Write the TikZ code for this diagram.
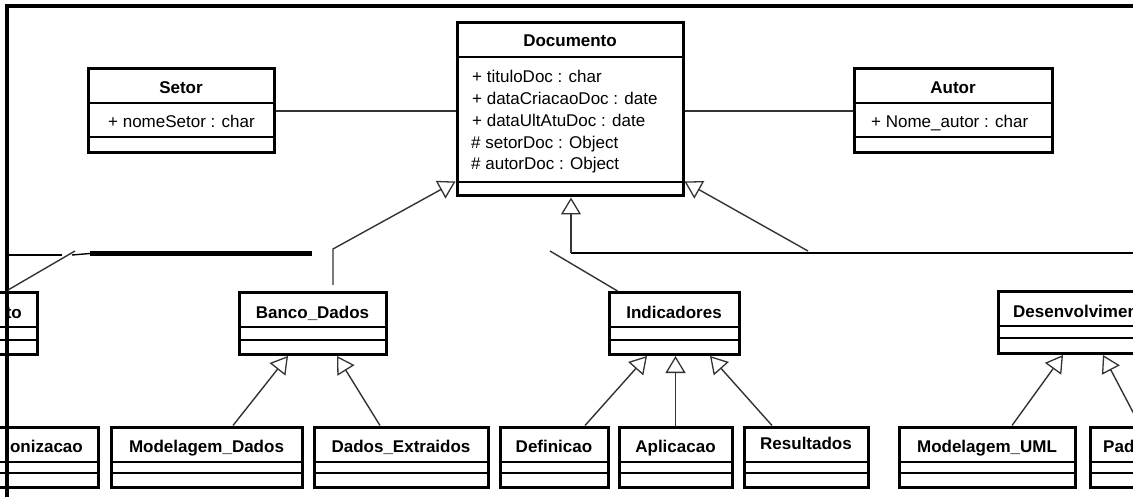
\documentclass[tikz,border=0pt]{standalone}
\usepackage{fontspec}
\setmainfont{Liberation Sans}
\usetikzlibrary{arrows.meta,calc}
\tikzset{
  cls/.style={draw=black, line width=3pt, inner sep=0pt},
  divline/.style={draw=black, line width=1.5pt},
  ttl/.style={font=\bfseries\fontsize{17}{20}\selectfont, anchor=base, inner sep=0pt},
  attr/.style={font=\fontsize{17}{20}\selectfont, anchor=base west, inner sep=0pt},
  assoc/.style={draw=black!80, line width=1.4pt},
  gen/.style={draw=black!80, line width=1.4pt, -{Triangle[length=17pt, width=20pt, fill=white, line width=1.3pt]}},
}
\begin{document}
\begin{tikzpicture}[x=1pt, y=-1pt]
\useasboundingbox (0,0) rectangle (1133,497);
\clip (0,0) rectangle (1133,497);

% frame
\coordinate (fbl) at (7,505);
\coordinate (ftr) at (1140,6);
\draw[line width=3.2pt] (fbl) |- (ftr);

% ---------- classes ----------
% Setor
\node[cls, minimum width=186pt, minimum height=84pt] (setor) at (181,111) {};
\draw[divline] (setor.west |- 0,103) -- (setor.east |- 0,103);
\draw[divline] (setor.west |- 0,137) -- (setor.east |- 0,137);
\node[ttl] (setort) at (181,94) {Setor};
\node[attr] (setora) at (108,128) {+ nomeSetor : char};

% Documento
\node[cls, minimum width=226pt, minimum height=173pt] (doc) at (570,109.5) {};
\draw[divline] (doc.west |- 0,57) -- (doc.east |- 0,57);
\draw[divline] (doc.west |- 0,182) -- (doc.east |- 0,182);
\node[ttl] (doct) at (570,47) {Documento};
\node[attr] (doca1) at (472,83) {+ tituloDoc : char};
\node[attr] (doca2) at (472,105) {+ dataCriacaoDoc : date};
\node[attr] (doca3) at (472,127) {+ dataUltAtuDoc : date};
\node[attr] (doca4) at (471,149) {\# setorDoc : Object};
\node[attr] (doca5) at (471,170) {\# autorDoc : Object};

% Autor
\node[cls, minimum width=198pt, minimum height=84pt] (autor) at (953,111) {};
\draw[divline] (autor.west |- 0,103) -- (autor.east |- 0,103);
\draw[divline] (autor.west |- 0,137) -- (autor.east |- 0,137);
\node[ttl] (autort) at (953,94) {Autor};
\node[attr] (autora) at (871,128) {+ Nome\_autor : char};

% middle row
\node[cls, minimum width=96pt, minimum height=62pt] (lbox) at (-11,323.5) {};
\draw[divline] (lbox.west |- 0,327) -- (lbox.east |- 0,327);
\draw[divline] (lbox.west |- 0,340) -- (lbox.east |- 0,340);
\node[ttl, anchor=base east] (lboxt) at (22,318) {to};

\node[cls, minimum width=147pt, minimum height=62pt] (banco) at (312.5,323.5) {};
\draw[divline] (banco.west |- 0,327) -- (banco.east |- 0,327);
\draw[divline] (banco.west |- 0,340) -- (banco.east |- 0,340);
\node[ttl] (bancot) at (312.5,318) {Banco\_Dados};

\node[cls, minimum width=130pt, minimum height=62pt] (ind) at (674,323.5) {};
\draw[divline] (ind.west |- 0,327) -- (ind.east |- 0,327);
\draw[divline] (ind.west |- 0,340) -- (ind.east |- 0,340);
\node[ttl] (indt) at (674,318) {Indicadores};

\node[cls, minimum width=201pt, minimum height=62pt] (desen) at (1098.5,322.5) {};
\draw[divline] (desen.west |- 0,326) -- (desen.east |- 0,326);
\draw[divline] (desen.west |- 0,338) -- (desen.east |- 0,338);
\node[ttl, anchor=base west] (desent) at (1013,317) {Desenvolvimen};

% bottom row
\node[cls, minimum width=157pt, minimum height=60pt] (xon) at (19.5,457) {};
\node[cls, minimum width=191pt, minimum height=60pt] (modd) at (206.5,457) {};
\node[cls, minimum width=174pt, minimum height=60pt] (dext) at (401,457) {};
\node[cls, minimum width=108pt, minimum height=60pt] (def) at (554,457) {};
\node[cls, minimum width=113pt, minimum height=60pt] (apl) at (675.5,457) {};
\node[cls, minimum width=124pt, minimum height=60pt] (res) at (806,457) {};
\node[cls, minimum width=176pt, minimum height=60pt] (muml) at (987,457) {};
\node[cls, minimum width=109pt, minimum height=60pt] (pad) at (1144.5,457) {};
\foreach \b in {xon,modd,dext,def,apl,res,muml,pad}{
  \draw[divline] (\b.west |- 0,462) -- (\b.east |- 0,462);
  \draw[divline] (\b.west |- 0,473) -- (\b.east |- 0,473);
}
\node[ttl, anchor=base east] (xont) at (83,452) {onizacao};
\node[ttl] (moddt) at (206.5,452) {Modelagem\_Dados};
\node[ttl] (dextt) at (401,452) {Dados\_Extraidos};
\node[ttl] (deft) at (554,452) {Definicao};
\node[ttl] (aplt) at (675.5,452) {Aplicacao};
\node[ttl] (rest) at (806,449) {Resultados};
\node[ttl] (mumlt) at (987,452) {Modelagem\_UML};
\node[ttl, anchor=base west] (padt) at (1103,452) {Pad};

% ---------- connectors ----------
\draw[assoc] (setor.east) -- (setor.east -| doc.west);
\draw[assoc] (doc.east |- autor.west) -- (autor.west);

% generalizations to Documento
\draw[gen] ([xshift=20.5pt,yshift=6pt]banco.north) -- ++(0,-36) -- ([yshift=16pt]doc.south west);
\coordinate (rfree) at (808,251);
\draw[gen] (rfree) -- ([yshift=16pt]doc.south east);
\coordinate (cjoin) at (571,253);
\coordinate (cend) at (1140,253);
\draw[line width=2.4pt] (cjoin) -- (cend);
\draw[gen] (cjoin) -- (cjoin |- doc.south);
\coordinate (ifree) at (550,251);
\draw[assoc] ([xshift=10pt]ind.north west) -- (ifree);

% left fragments
\coordinate (la) at (7,255);
\coordinate (lb) at (37,255);
\coordinate (lc) at (62,255);
\coordinate (ld1) at (8,290);
\coordinate (ld2) at (75,251);
\coordinate (le) at (72,255);
\coordinate (lt1) at (90,253.5);
\coordinate (lt2) at (312,253.5);
\draw[line width=2.2pt] (la) -- (lb);
\draw[line width=1.2pt] (lb) -- (lc);
\draw[assoc] (ld1) -- (ld2);
\draw[line width=1.4pt] (le) -- (lt1);
\draw[line width=5.5pt] (lt1) -- (lt2);

% generalizations in lower level
\draw[gen] ([xshift=26.5pt]modd.north) -- ([xshift=-24.5pt]banco.south);
\draw[gen] ([xshift=-21pt]dext.north) -- ([xshift=24.5pt]banco.south);
\draw[gen] ([xshift=31pt]def.north) -- ([xshift=-27pt]ind.south);
\draw[gen] (apl.north) -- (apl.north |- ind.south);
\draw[gen] ([xshift=-34pt]res.north) -- ([xshift=36pt]ind.south);
\draw[gen] ([xshift=25pt]muml.north) -- ([xshift=-35.5pt]desen.south);
\draw[gen] ([xshift=-4.5pt]pad.north) -- ([xshift=4.5pt]desen.south);
\end{tikzpicture}
\end{document}
